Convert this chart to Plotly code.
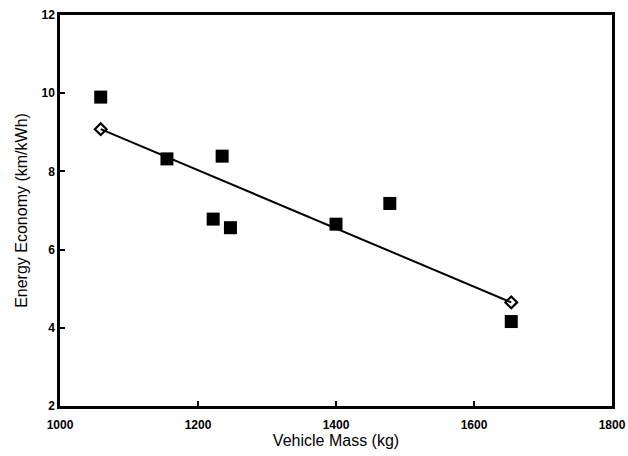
import plotly.graph_objects as go

mass = [1059, 1155, 1235, 1222, 1247, 1400, 1478, 1654]
economy = [9.9, 8.32, 8.39, 6.78, 6.56, 6.65, 7.18, 4.16]
fit_mass = [1059, 1654]
fit_economy = [9.08, 4.65]

x_ticks = [1000, 1200, 1400, 1600, 1800]
y_ticks = [2, 4, 6, 8, 10, 12]

fig = go.Figure()
fig.add_trace(go.Scatter(
    x=fit_mass, y=fit_economy, mode="lines+markers",
    line=dict(color="black", width=2),
    marker=dict(symbol="diamond-open", size=9, color="black", line=dict(width=2.2)),
    showlegend=False, cliponaxis=False))
fig.add_trace(go.Scatter(
    x=mass, y=economy, mode="markers",
    marker=dict(symbol="square", size=13, color="black"),
    showlegend=False, cliponaxis=False))

font = "Liberation Sans, Arial, sans-serif"
fig.update_layout(
    width=628, height=456,
    margin=dict(l=60, r=16, t=15, b=50),
    paper_bgcolor="white", plot_bgcolor="white",
    font=dict(family=font, color="black"),
    xaxis=dict(range=[1000, 1800], tickvals=x_ticks, ticks="inside", ticklen=5,
               tickwidth=2, tickcolor="black", showgrid=False, zeroline=False,
               showline=True, linewidth=2.5, linecolor="black", mirror=True,
               automargin=False, ticklabelstandoff=6,
               tickfont=dict(size=12, family=font, weight="bold"),
               title=dict(text="Vehicle Mass (kg)", font=dict(size=16), standoff=4)),
    yaxis=dict(range=[2, 12], tickvals=y_ticks, ticks="inside", ticklen=5,
               tickwidth=2, tickcolor="black", showgrid=False, zeroline=False,
               showline=True, linewidth=2.5, linecolor="black", mirror=True,
               automargin=False,
               tickfont=dict(size=12, family=font, weight="bold"),
               title=dict(text="Energy Economy (km/kWh)", font=dict(size=16), standoff=10)),
)
fig.write_html("out.html")
